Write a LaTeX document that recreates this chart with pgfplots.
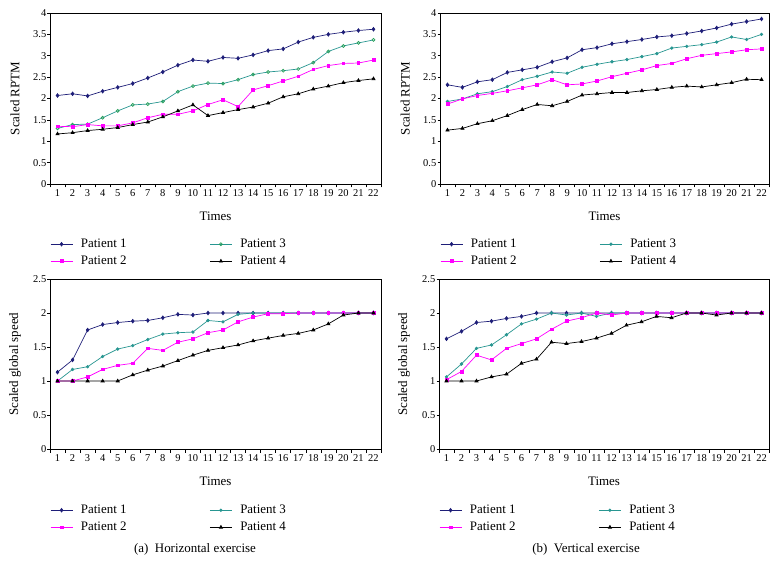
\documentclass[border=0pt]{standalone}
\usepackage{fontspec}
\setmainfont{Liberation Serif}
\usepackage{pgfplots}
\pgfplotsset{compat=1.18}
\definecolor{pone}{RGB}{30,30,120}
\definecolor{ptwo}{RGB}{255,0,255}
\definecolor{pthree}{RGB}{40,150,145}
\definecolor{pthreeg}{RGB}{40,160,90}
\definecolor{pfour}{RGB}{0,0,0}
\pgfplotsset{
  base/.style={
    scale only axis,
    xmin=0.5, xmax=22.5,
    xtick={1,...,22},
    minor xtick={0.5,1.5,...,22.5},
    major x tick style={draw=none},
    minor x tick style={black, line width=0.5bp},
    major y tick style={black, line width=0.5bp},
    minor tick length=3.5bp, major tick length=2.5bp,
    tick align=outside, xtick pos=left, ytick pos=left,
    axis line style={line width=0.6bp},
    /pgf/number format/assume math mode=true,
    tick label style={font=\fontsize{10.5}{12}\selectfont},
    yticklabel style={inner xsep=1bp},
    label style={font=\fontsize{13}{15}\selectfont},
    xlabel={Times},
    xlabel style={at={(axis description cs:0.5,-0.187)}, anchor=center},
    ylabel style={at={(axis description cs:-0.106,0.5)}, anchor=center},
    legend columns=2,
    legend cell align=left,
    legend image code/.code={\draw[mark repeat=2,mark phase=2,#1] plot coordinates {(0bp,0bp) (11bp,0bp) (22bp,0bp)};},
    legend style={draw=none, fill=none, inner sep=0bp,
      at={(axis description cs:0,-0.31)}, anchor=north west,
      font=\fontsize{13}{15}\selectfont,
      nodes={inner sep=1bp, text depth=3bp, text height=9bp},
      row sep=3bp,
      /tikz/every odd column/.append style={column sep=7bp},
      /tikz/every even column/.append style={column sep=82bp}},
    every axis plot/.append style={line width=0.7bp},
  },
  s1/.style={color=pone, mark=diamond*, mark size=1.8bp},
  s2/.style={color=ptwo, mark=square*, mark size=1.4bp},
  s3/.style={color=pthree, mark=*, mark size=1.3bp},
  s3o/.style={color=pthree, mark=o, mark size=1.5bp, mark options={draw=pthreeg, fill=white}},
  s4/.style={color=pfour, mark=triangle*, mark size=1.8bp},
}
\begin{document}
\begin{tikzpicture}
\path[use as bounding box] (0,0) rectangle (779bp,575bp);
% (a) top: Horizontal RPTM
\begin{axis}[base, at={(50bp,391bp)}, anchor=south west, width=331bp, height=171bp,
  ymin=0, ymax=4, ytick={0,0.5,...,4}, ylabel={Scaled RPTM}]
\addplot[s1] coordinates {(1,2.07)(2,2.11)(3,2.06)(4,2.17)(5,2.26)(6,2.35)(7,2.48)(8,2.62)(9,2.78)(10,2.90)(11,2.87)(12,2.96)(13,2.94)(14,3.02)(15,3.12)(16,3.16)(17,3.32)(18,3.43)(19,3.50)(20,3.55)(21,3.59)(22,3.62)};
\addlegendentry{Patient 1}
\addplot[s3o] coordinates {(1,1.30)(2,1.39)(3,1.40)(4,1.55)(5,1.71)(6,1.85)(7,1.87)(8,1.93)(9,2.16)(10,2.29)(11,2.36)(12,2.35)(13,2.44)(14,2.56)(15,2.62)(16,2.65)(17,2.69)(18,2.84)(19,3.10)(20,3.23)(21,3.30)(22,3.37)};
\addlegendentry{Patient 3}
\addplot[s2] coordinates {(1,1.35)(2,1.34)(3,1.39)(4,1.36)(5,1.36)(6,1.43)(7,1.55)(8,1.63)(9,1.63)(10,1.71)(11,1.86)(12,1.97)(13,1.81)(14,2.20)(15,2.30)(16,2.41)(17,2.52)(18,2.68)(19,2.77)(20,2.82)(21,2.83)(22,2.90)};
\addlegendentry{Patient 2}
\addplot[s4] coordinates {(1,1.17)(2,1.20)(3,1.25)(4,1.28)(5,1.32)(6,1.39)(7,1.45)(8,1.57)(9,1.71)(10,1.85)(11,1.60)(12,1.67)(13,1.74)(14,1.80)(15,1.89)(16,2.04)(17,2.11)(18,2.22)(19,2.29)(20,2.37)(21,2.42)(22,2.46)};
\addlegendentry{Patient 4}
\end{axis}
% (b) top: Vertical RPTM
\begin{axis}[base, at={(440bp,391bp)}, anchor=south west, width=329bp, height=171bp,
  ymin=0, ymax=4, ytick={0,0.5,...,4}, ylabel={Scaled RPTM}]
\addplot[s1] coordinates {(1,2.32)(2,2.26)(3,2.39)(4,2.44)(5,2.61)(6,2.67)(7,2.73)(8,2.86)(9,2.95)(10,3.14)(11,3.19)(12,3.28)(13,3.33)(14,3.38)(15,3.44)(16,3.47)(17,3.52)(18,3.58)(19,3.65)(20,3.74)(21,3.80)(22,3.86)};
\addlegendentry{Patient 1}
\addplot[s3] coordinates {(1,1.93)(2,1.99)(3,2.11)(4,2.16)(5,2.28)(6,2.44)(7,2.52)(8,2.62)(9,2.59)(10,2.73)(11,2.80)(12,2.86)(13,2.91)(14,2.98)(15,3.05)(16,3.18)(17,3.22)(18,3.26)(19,3.32)(20,3.44)(21,3.38)(22,3.50)};
\addlegendentry{Patient 3}
\addplot[s2] coordinates {(1,1.87)(2,1.99)(3,2.07)(4,2.12)(5,2.18)(6,2.25)(7,2.32)(8,2.44)(9,2.32)(10,2.34)(11,2.41)(12,2.51)(13,2.59)(14,2.67)(15,2.77)(16,2.82)(17,2.93)(18,3.01)(19,3.05)(20,3.09)(21,3.14)(22,3.16)};
\addlegendentry{Patient 2}
\addplot[s4] coordinates {(1,1.26)(2,1.30)(3,1.41)(4,1.48)(5,1.60)(6,1.74)(7,1.86)(8,1.83)(9,1.93)(10,2.08)(11,2.11)(12,2.14)(13,2.14)(14,2.18)(15,2.21)(16,2.26)(17,2.29)(18,2.27)(19,2.32)(20,2.37)(21,2.45)(22,2.44)};
\addlegendentry{Patient 4}
\end{axis}
% (a) bottom: Horizontal speed
\begin{axis}[base, at={(50bp,126bp)}, anchor=south west, width=331bp, height=170bp,
  ymin=0, ymax=2.5, ytick={0,0.5,...,2.5}, ylabel={Scaled global speed},
  legend style={at={(axis description cs:0,-0.318)}}]
\addplot[s1] coordinates {(1,1.13)(2,1.31)(3,1.75)(4,1.83)(5,1.86)(6,1.88)(7,1.89)(8,1.93)(9,1.98)(10,1.97)(11,2)(12,2)(13,2)(14,2)(15,2)(16,2)(17,2)(18,2)(19,2)(20,2)(21,2)(22,2)};
\addlegendentry{Patient 1}
\addplot[s3] coordinates {(1,1.00)(2,1.17)(3,1.21)(4,1.36)(5,1.47)(6,1.52)(7,1.61)(8,1.69)(9,1.71)(10,1.72)(11,1.89)(12,1.87)(13,1.98)(14,2)(15,2)(16,2)(17,2)(18,2)(19,2)(20,2)(21,2)(22,2)};
\addlegendentry{Patient 3}
\addplot[s2] coordinates {(1,1.00)(2,1.00)(3,1.06)(4,1.17)(5,1.23)(6,1.26)(7,1.48)(8,1.45)(9,1.57)(10,1.62)(11,1.71)(12,1.75)(13,1.87)(14,1.94)(15,1.99)(16,1.99)(17,2)(18,2)(19,2)(20,2)(21,2)(22,2)};
\addlegendentry{Patient 2}
\addplot[s4] coordinates {(1,1)(2,1)(3,1)(4,1)(5,1)(6,1.09)(7,1.16)(8,1.22)(9,1.30)(10,1.38)(11,1.45)(12,1.49)(13,1.53)(14,1.59)(15,1.63)(16,1.67)(17,1.70)(18,1.75)(19,1.84)(20,1.97)(21,2)(22,2)};
\addlegendentry{Patient 4}
\end{axis}
% (b) bottom: Vertical speed
\begin{axis}[base, at={(439bp,126bp)}, anchor=south west, width=330bp, height=170bp,
  ymin=0, ymax=2.5, ytick={0,0.5,...,2.5}, ylabel={Scaled global speed},
  legend style={at={(axis description cs:0,-0.318)}}]
\addplot[s1] coordinates {(1,1.62)(2,1.73)(3,1.86)(4,1.88)(5,1.92)(6,1.95)(7,2)(8,2)(9,2)(10,2)(11,2)(12,2)(13,2)(14,2)(15,2)(16,2)(17,2)(18,2)(19,2)(20,2)(21,2)(22,2)};
\addlegendentry{Patient 1}
\addplot[s3] coordinates {(1,1.06)(2,1.25)(3,1.48)(4,1.53)(5,1.68)(6,1.84)(7,1.91)(8,2)(9,1.97)(10,2)(11,1.95)(12,2)(13,2)(14,2)(15,2)(16,2)(17,2)(18,2)(19,2)(20,2)(21,2)(22,2)};
\addlegendentry{Patient 3}
\addplot[s2] coordinates {(1,1.02)(2,1.14)(3,1.38)(4,1.31)(5,1.48)(6,1.55)(7,1.62)(8,1.76)(9,1.88)(10,1.93)(11,2)(12,1.97)(13,2)(14,2)(15,2)(16,2)(17,2)(18,2)(19,2)(20,2)(21,2)(22,2)};
\addlegendentry{Patient 2}
\addplot[s4] coordinates {(1,1)(2,1)(3,1)(4,1.06)(5,1.10)(6,1.26)(7,1.32)(8,1.57)(9,1.55)(10,1.58)(11,1.63)(12,1.70)(13,1.82)(14,1.87)(15,1.95)(16,1.93)(17,2)(18,2)(19,1.97)(20,2)(21,2)(22,2)};
\addlegendentry{Patient 4}
\end{axis}
\node[font=\fontsize{13}{15}\selectfont] at (195bp,26bp) {(a)\hspace{0.5em}Horizontal exercise};
\node[font=\fontsize{13}{15}\selectfont] at (586bp,26bp) {(b)\hspace{0.5em}Vertical exercise};
\end{tikzpicture}
\end{document}
